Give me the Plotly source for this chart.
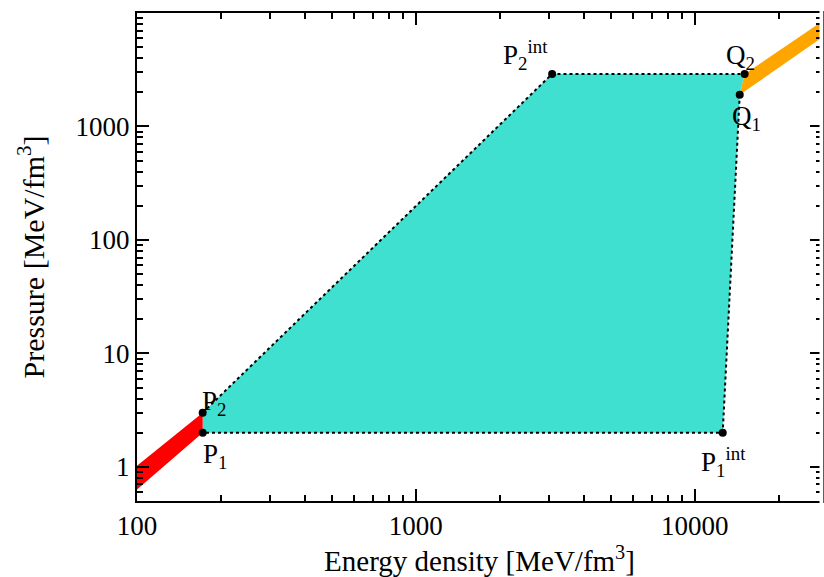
import numpy as np
import plotly.graph_objects as go

# ---- data ----
# key points (energy density, pressure) in MeV/fm^3
P1 = (172, 2.0)
P2 = (172, 3.0)
P2int = (3080, 2900)
Q2 = (15100, 2900)
Q1 = (14500, 1900)
P1int = (12600, 2.0)

# red band (low-density EoS) edges
red_x = [100, 172, 172, 100]
red_y = [0.63, 2.0, 3.0, 1.02]
# orange band (high-density EoS) edges
orange_x = [14500, 30000, 30000, 15100]
orange_y = [1900, 6600, 9100, 2900]

cyan_x = [P1[0], P2[0], P2int[0], Q2[0], Q1[0], P1int[0], P1[0]]
cyan_y = [P1[1], P2[1], P2int[1], Q2[1], Q1[1], P1int[1], P1[1]]

dot_x = [P2[0], P2int[0], Q2[0]]
dot_y = [P2[1], P2int[1], Q2[1]]
dot2_x = [Q1[0], P1int[0], P1[0]]
dot2_y = [Q1[1], P1int[1], P1[1]]

pts_x = [P1[0], P2[0], P2int[0], Q2[0], Q1[0], P1int[0]]
pts_y = [P1[1], P2[1], P2int[1], Q2[1], Q1[1], P1int[1]]

x_ticks = [100, 1000, 10000]
y_ticks = [1, 10, 100, 1000, 10000]

FONT = "Liberation Serif"

fig = go.Figure()
fig.add_trace(go.Scatter(x=cyan_x, y=cyan_y, fill="toself", mode="lines",
                         fillcolor="#40E0D0", line=dict(width=0), hoverinfo="skip"))
fig.add_trace(go.Scatter(x=red_x, y=red_y, fill="toself", mode="lines",
                         fillcolor="#FF0000", line=dict(width=0), hoverinfo="skip"))
fig.add_trace(go.Scatter(x=orange_x, y=orange_y, fill="toself", mode="lines",
                         fillcolor="#FFA500", line=dict(width=0), hoverinfo="skip"))
fig.add_trace(go.Scatter(x=dot_x, y=dot_y, mode="lines",
                         line=dict(color="black", width=2, dash="dot")))
fig.add_trace(go.Scatter(x=dot2_x, y=dot2_y, mode="lines",
                         line=dict(color="black", width=2, dash="dot")))
fig.add_trace(go.Scatter(x=pts_x, y=pts_y, mode="markers",
                         marker=dict(color="black", size=8)))

def minor_vals(lo, hi):
    v = []
    for k in range(lo, hi):
        for m in range(2, 10):
            v.append(m * 10 ** k)
    return v

axis_common = dict(
    type="log", showgrid=False, zeroline=False, showline=True, linecolor="black",
    linewidth=2, mirror="allticks", ticks="inside", ticklen=12, tickwidth=2,
    tickcolor="black", tickfont=dict(family=FONT, size=27, color="black"),
)

fig.update_xaxes(**axis_common, range=[2, np.log10(28600)], tickvals=x_ticks,
                 ticktext=[str(v) for v in x_ticks],
                 minor=dict(ticks="inside", ticklen=6, tickwidth=2, tickcolor="black",
                            tickvals=minor_vals(2, 5), showgrid=False),
                 title=dict(text="Energy density [MeV/fm<sup>3</sup>]",
                            font=dict(family=FONT, size=29, color="black"), standoff=4))
fig.update_yaxes(**axis_common, range=[np.log10(0.5), 4], tickvals=y_ticks,
                 ticktext=[str(v) for v in y_ticks],
                 minor=dict(ticks="inside", ticklen=6, tickwidth=2, tickcolor="black",
                            tickvals=minor_vals(-1, 4), showgrid=False),
                 title=dict(text="Pressure [MeV/fm<sup>3</sup>]",
                            font=dict(family=FONT, size=30, color="black"), standoff=22))

lab_font = dict(family=FONT, size=27, color="black")
ann = [
    dict(x=np.log10(P2[0]), y=np.log10(P2[1]), text="P<sub>2</sub>", xanchor="left",
         yanchor="bottom", xshift=-3, yshift=-9),
    dict(x=np.log10(P1[0]), y=np.log10(P1[1]), text="P<sub>1</sub>", xanchor="left",
         yanchor="top", xshift=-2, yshift=-4),
    dict(x=np.log10(P2int[0]), y=np.log10(P2int[1]), text="P<sub>2</sub><sup>int</sup>",
         xanchor="right", yanchor="bottom", xshift=-2, yshift=-2),
    dict(x=np.log10(Q2[0]), y=np.log10(Q2[1]), text="Q<sub>2</sub>", xanchor="center",
         yanchor="bottom", xshift=-4, yshift=-2),
    dict(x=np.log10(Q1[0]), y=np.log10(Q1[1]), text="Q<sub>1</sub>", xanchor="left",
         yanchor="top", xshift=-10, yshift=-4),
    dict(x=np.log10(P1int[0]), y=np.log10(P1int[1]), text="P<sub>1</sub><sup>int</sup>",
         xanchor="left", yanchor="top", xshift=-24, yshift=-8),
]
for a in ann:
    a.update(xref="x", yref="y", showarrow=False, font=lab_font)
fig.update_layout(annotations=ann)

# hide the right frame line (the reference's frame lies just past the image edge)
fig.add_shape(type="rect", xref="paper", yref="paper", x0=1 - 2.5 / 687, x1=1.002,
              y0=-0.01, y1=1.01, fillcolor="white", line=dict(width=0), layer="above")

fig.update_layout(width=824, height=577, showlegend=False,
                  margin=dict(l=137, r=0, t=13, b=76),
                  paper_bgcolor="white", plot_bgcolor="white")
fig.write_html("out.html")
